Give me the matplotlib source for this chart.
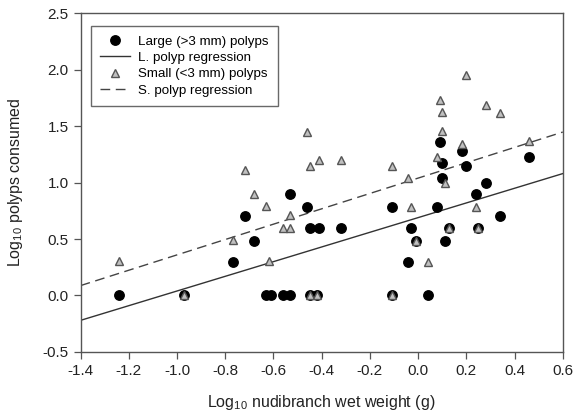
import matplotlib
matplotlib.use('Agg')
import numpy as np
import matplotlib.pyplot as plt

# large (>3 mm) polyps
large_x = [-1.24, -0.97, -0.77, -0.72, -0.68, -0.63, -0.61, -0.56, -0.53, -0.53,
           -0.46, -0.45, -0.41, -0.45, -0.42, -0.32, -0.11, -0.11, -0.03, -0.04,
           -0.01, 0.04, 0.08, 0.11, 0.09, 0.10, 0.10, 0.13, 0.18, 0.20,
           0.24, 0.25, 0.28, 0.34, 0.46]
large_y = [0.00, 0.00, 0.30, 0.70, 0.48, 0.00, 0.00, 0.00, 0.00, 0.90,
           0.78, 0.60, 0.60, 0.00, 0.00, 0.60, 0.78, 0.00, 0.60, 0.30,
           0.48, 0.00, 0.78, 0.48, 1.36, 1.17, 1.04, 0.60, 1.28, 1.15,
           0.90, 0.60, 1.00, 0.70, 1.23]

# small (<3 mm) polyps
small_x = [-1.24, -0.97, -0.77, -0.72, -0.68, -0.63, -0.62, -0.56, -0.53, -0.53,
           -0.46, -0.45, -0.41, -0.32, -0.45, -0.42, -0.11, -0.11, -0.04, -0.03,
           -0.01, 0.04, 0.08, 0.09, 0.10, 0.10, 0.11, 0.13, 0.18, 0.20,
           0.24, 0.25, 0.28, 0.34, 0.46]
small_y = [0.31, 0.00, 0.49, 1.11, 0.90, 0.79, 0.31, 0.60, 0.60, 0.71,
           1.45, 1.15, 1.20, 1.20, 0.00, 0.00, 1.15, 0.00, 1.04, 0.78,
           0.48, 0.30, 1.23, 1.73, 1.63, 1.46, 1.00, 0.60, 1.34, 1.95,
           0.78, 0.60, 1.69, 1.62, 1.37]

# regression lines (intercept, slope)
large_fit = [0.69, 0.65]
small_fit = [1.04, 0.68]

xticks = [-1.4, -1.2, -1.0, -0.8, -0.6, -0.4, -0.2, 0.0, 0.2, 0.4, 0.6]
yticks = [-0.5, 0.0, 0.5, 1.0, 1.5, 2.0, 2.5]

plt.rcParams['font.family'] = ['Liberation Sans', 'DejaVu Sans']
plt.rcParams['mathtext.fontset'] = 'custom'
plt.rcParams['mathtext.rm'] = 'Liberation Sans'
plt.rcParams['mathtext.default'] = 'rm'

fig = plt.figure(figsize=(5.76, 4.16), dpi=100)
ax = fig.add_axes([0.140, 0.154, 0.837, 0.814])

edge = '#555555'
xl = np.array([-1.4, 0.6])

ax.plot(large_x, large_y, 'o', color='black', markersize=6.8, zorder=3,
        label='Large (>3 mm) polyps')
ax.plot(xl, large_fit[0] + large_fit[1] * xl, '-', color='#333333', lw=1.0,
        label='L. polyp regression')
ax.plot(small_x, small_y, '^', markerfacecolor='#c0c0c0', markeredgecolor=edge,
        markeredgewidth=1.0, markersize=5.8, linestyle='none', zorder=4,
        label='Small (<3 mm) polyps')
ax.plot(xl, small_fit[0] + small_fit[1] * xl, '--', color='#444444', lw=1.0,
        dashes=(7, 4), label='S. polyp regression')

ax.set_xlim(-1.4, 0.6)
ax.set_ylim(-0.5, 2.5)
ax.set_xticks(xticks)
ax.set_yticks(yticks)
ax.set_xticklabels(['%.1f' % v for v in xticks])
ax.set_yticklabels(['%.1f' % v for v in yticks])
ax.tick_params(direction='out', length=5, width=0.9, color=edge,
               labelsize=11, labelcolor='#222222')
for s in ax.spines.values():
    s.set_color(edge)
    s.set_linewidth(1.0)

ax.set_xlabel('Log$_{10}$ nudibranch wet weight (g)', fontsize=11.5, color='#222222',
              labelpad=11)
ax.set_ylabel('Log$_{10}$ polyps consumed', fontsize=11.5, color='#222222', labelpad=13)

leg = ax.legend(loc='upper left', bbox_to_anchor=(0.021, 0.963), borderaxespad=0,
                fontsize=9.6, frameon=True, fancybox=False, edgecolor='#444444',
                handlelength=2.25, borderpad=0.7, labelspacing=0.3,
                handletextpad=0.6)
leg.get_frame().set_linewidth(1.0)

fig.savefig('out.png', dpi=100)
